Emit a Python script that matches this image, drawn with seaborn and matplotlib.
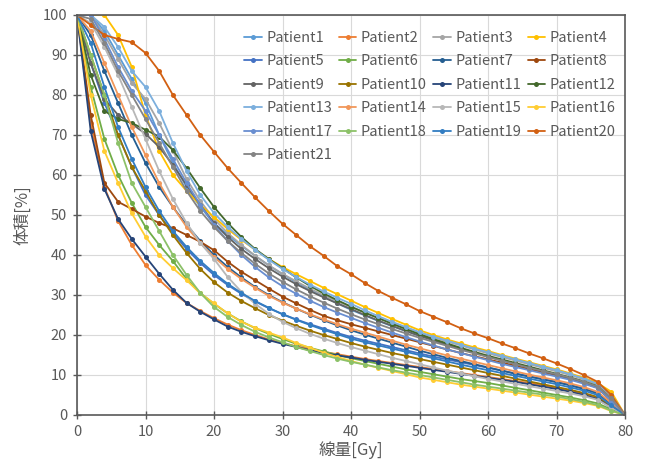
import matplotlib
matplotlib.use('Agg')
import matplotlib.pyplot as plt
import seaborn as sns
import pandas as pd

# dose axis: markers every 2 Gy
dose = list(range(0, 81, 2))

patients = [f"Patient{i}" for i in range(1, 22)]

colors = ["#5B9BD5", "#ED7D31", "#A5A5A5", "#FFC000", "#4472C4", "#70AD47",
          "#255E91", "#9E480E", "#636363", "#997300", "#264478", "#43682B",
          "#7CAFDD", "#F1975A", "#B7B7B7", "#FFCD33", "#698ED0", "#8CC168",
          "#327DC2", "#D26012", "#848484"]

p1 = [100, 100, 96, 90, 84, 78, 70, 63, 57, 52, 48, 45, 42.3, 39.8, 37.4, 35.2, 33.2, 31.3, 29.6, 27.9, 26.3,
      24.9, 23.5, 22.2, 21, 19.8, 18.7, 17.6, 16.6, 15.6, 14.6, 13.7, 12.8, 11.9, 11, 10.1, 9.2, 8.2, 7, 4, 0]
p2 = [100, 73, 57, 48.5, 42.5, 37.5, 33.8, 30.6, 28, 26, 24.2, 22.6, 21.2, 20, 18.9, 18, 17.2, 16.5, 15.8, 15.2, 14.6,
      14, 13.5, 13, 12.5, 12, 11.5, 11, 10.5, 10, 9.5, 9, 8.5, 8, 7.4, 6.8, 6.1, 5.3, 4.3, 2, 0]
p3 = [100, 100, 95, 89, 83, 79, 73, 66, 59, 53.5, 49, 45.5, 42.5, 39.8, 37.4, 35.3, 33.4, 31.6, 29.9, 28.4, 27,
      25.6, 24.3, 23, 21.8, 20.6, 19.5, 18.4, 17.4, 16.4, 15.4, 14.5, 13.6, 12.7, 11.8, 10.9, 10, 8.9, 7.6, 4.5, 0]
p4 = [100, 100, 100, 95, 87, 75, 66, 60, 56, 52.5, 49.5, 46.5, 43.8, 41.3, 39, 37, 35.2, 33.5, 31.8, 30.2, 28.6,
      27, 25.5, 24, 22.6, 21.2, 20, 18.9, 17.9, 16.9, 16, 15, 14.1, 13.2, 12.3, 11.4, 10.4, 9.3, 8, 5.8, 0]
p5 = [100, 88, 78, 70, 62, 55, 50, 45.5, 41.5, 38, 35, 32.5, 30.3, 28.4, 26.7, 25.2, 23.9, 22.7, 21.6, 20.5, 19.5,
      18.6, 17.8, 17, 16.2, 15.4, 14.6, 13.9, 13.2, 12.5, 11.8, 11.1, 10.4, 9.7, 9, 8.3, 7.5, 6.6, 5.5, 2.8, 0]
p6 = [100, 82, 69, 60, 53, 47, 42.5, 38.5, 34, 30.5, 27.8, 25.4, 23.4, 21.7, 20.3, 19, 17.8, 16.8, 15.9, 15, 14.2,
      13.5, 12.8, 12.1, 11.4, 10.8, 10.2, 9.6, 9, 8.5, 8, 7.4, 6.8, 6.2, 5.6, 5, 4.4, 3.7, 2.9, 1.4, 0]
p7 = [100, 95, 86, 78, 70, 63, 57, 52, 47.5, 43.5, 40, 37, 34.4, 32, 30, 28.2, 26.6, 25.1, 23.7, 22.4, 21.2,
      20.1, 19.1, 18.1, 17.1, 16.1, 15.2, 14.3, 13.5, 12.7, 11.9, 11.1, 10.3, 9.6, 8.9, 8.2, 7.4, 6.5, 5.4, 2.8, 0]
p8 = [100, 75, 58, 53.3, 51.5, 49.6, 48, 46.7, 45, 43.3, 41.2, 38.3, 35.8, 33.7, 31.6, 29.6, 27.9, 26.3, 24.8, 23.7, 22.7,
      21.8, 20.9, 20, 19.1, 18.2, 17.3, 16.4, 15.5, 14.7, 13.9, 13.1, 12.3, 11.5, 10.7, 9.9, 9, 8, 6.8, 3.5, 0]
p9 = [100, 88, 79, 75, 72.8, 70.3, 67, 62.5, 57.5, 52.5, 48, 44.5, 41.5, 39, 36.7, 34.6, 32.7, 31, 29.4, 27.9, 26.5,
      25, 23.6, 22.3, 21, 19.8, 18.7, 17.6, 16.6, 15.6, 14.6, 13.7, 12.8, 11.9, 11, 10.1, 9.2, 8.2, 7, 3.8, 0]
p10 = [100, 90, 80, 70, 62, 56, 50, 45, 40.5, 36.5, 33.2, 30.6, 28.5, 26.7, 25, 23.6, 22.3, 21.1, 20, 19, 18,
       17.1, 16.3, 15.5, 14.8, 14, 13.3, 12.6, 11.9, 11.2, 10.5, 9.8, 9.1, 8.4, 7.7, 7, 6.3, 5.5, 4.5, 2.2, 0]
p11 = [100, 71, 56.5, 49, 44, 39.6, 35.3, 31.3, 28, 25.8, 23.9, 22.1, 20.8, 19.7, 18.7, 17.8, 17, 16.2, 15.5, 14.9, 14.4,
       13.8, 13.3, 12.8, 12.3, 11.8, 11.3, 10.8, 10.3, 9.8, 9.3, 8.8, 8.3, 7.7, 7.1, 6.5, 5.8, 5, 4, 1.8, 0]
p12 = [100, 85, 76, 74, 73, 71.3, 69.6, 66.2, 61.7, 56.7, 52, 48, 44.5, 41.5, 39, 36.7, 34.4, 32.3, 30.4, 28.7, 27.1,
       25.6, 24.2, 22.8, 21.5, 20.2, 19, 17.9, 16.8, 15.8, 14.8, 13.9, 13, 12.1, 11.2, 10.3, 9.4, 8.4, 7.2, 4, 0]
p13 = [100, 100, 97, 92, 86, 82, 76, 68, 61, 55, 50.5, 47, 44, 41.3, 38.8, 36.5, 34.5, 32.6, 30.9, 29.3, 27.8,
       26.2, 24.7, 23.3, 22, 20.7, 19.6, 18.6, 17.6, 16.6, 15.7, 14.8, 13.9, 13, 12.1, 11.2, 10.2, 9.1, 7.8, 5, 0]
p14 = [100, 96, 88, 80, 72, 65, 58, 52, 47, 43, 39.5, 36.5, 34, 31.8, 29.8, 28.1, 26.6, 25.2, 23.9, 22.7, 21.6,
       20.6, 19.6, 18.6, 17.6, 16.7, 15.8, 14.9, 14.1, 13.3, 12.5, 11.7, 10.9, 10.1, 9.4, 8.7, 7.9, 7, 5.8, 3, 0]
p15 = [100, 98, 92, 85, 77, 69, 61, 54, 48, 43, 39, 34.5, 30.8, 27.8, 25.3, 23.3, 21.7, 20.3, 19.1, 18, 17,
       16.1, 15.2, 14.3, 13.5, 12.7, 11.9, 11.1, 10.4, 9.7, 9, 8.4, 7.8, 7.2, 6.6, 6, 5.4, 4.7, 3.8, 1.8, 0]
p16 = [100, 80, 66, 58, 50.4, 44.6, 40, 36.7, 33.7, 30.4, 27.9, 25.4, 23.3, 21.8, 20.6, 19.4, 18, 16.8, 15.6, 14.5, 13.5,
       12.6, 11.8, 11, 10.2, 9.4, 8.8, 8.2, 7.6, 7.1, 6.6, 6.1, 5.6, 5.1, 4.6, 4.1, 3.6, 3, 2.3, 1, 0]
p17 = [100, 100, 94, 87, 81, 76, 70, 64, 58, 52.5, 47.5, 43.5, 40, 37, 34.4, 32.2, 30.3, 28.6, 27, 25.6, 24.3,
       23, 21.8, 20.6, 19.5, 18.4, 17.4, 16.4, 15.5, 14.6, 13.7, 12.8, 12, 11.2, 10.4, 9.6, 8.8, 7.8, 6.7, 3.6, 0]
p18 = [100, 90, 80, 68, 58, 52, 46, 40, 35, 30.5, 27, 24.5, 22.5, 20.8, 19.4, 18.2, 17, 16, 15, 14.1, 13.3,
       12.6, 11.9, 11.2, 10.6, 10, 9.4, 8.8, 8.2, 7.6, 7.1, 6.6, 6.1, 5.6, 5.1, 4.6, 4, 3.3, 2.5, 1.1, 0]
p19 = [100, 93, 82, 72, 64, 57, 51, 46, 42, 38.5, 35.5, 32.8, 30.5, 28.5, 26.8, 25.2, 23.8, 22.5, 21.3, 20.2, 19.1,
       18.2, 17.4, 16.6, 15.8, 15, 14.2, 13.4, 12.6, 11.9, 11.2, 10.5, 9.8, 9.1, 8.4, 7.7, 6.9, 6.1, 5, 2.4, 0]
p20 = [100, 97.5, 95, 94, 93.2, 90.5, 86, 80, 75, 70, 65.8, 61.7, 58, 54.4, 51, 47.8, 45, 42.2, 39.8, 37.2, 35.2,
       33, 31, 29.3, 27.7, 26, 24.6, 23.2, 21.7, 20.4, 19.2, 17.9, 16.7, 15.4, 14.2, 12.9, 11.5, 10, 8.3, 5, 0]
p21 = [100, 99, 93, 86, 80, 74, 68, 62, 56, 51, 47, 43.5, 40.5, 37.8, 35.4, 33.3, 31.4, 29.7, 28.1, 26.6, 25.2,
       23.9, 22.7, 21.5, 20.4, 19.3, 18.3, 17.3, 16.3, 15.4, 14.5, 13.6, 12.7, 11.8, 11, 10.2, 9.3, 8.3, 7.1, 4.2, 0]

series = [p1, p2, p3, p4, p5, p6, p7, p8, p9, p10, p11, p12, p13, p14, p15, p16, p17, p18, p19, p20, p21]

x_ticks = list(range(0, 81, 10))
y_ticks = list(range(0, 101, 10))

sns.set_theme(style='white')
plt.rcParams['font.family'] = ['Noto Sans CJK JP', 'DejaVu Sans']

fig = plt.figure(figsize=(6.45, 4.7), dpi=100)
ax = fig.add_axes([77 / 645, 1 - 415 / 470, 548 / 645, 400 / 470])

for name, col, vals in zip(patients, colors, series):
    df = pd.DataFrame({'dose': dose, 'vol': vals})
    sns.lineplot(data=df, x='dose', y='vol', color=col, marker='o', markersize=3.6,
                 markeredgewidth=0, linewidth=1.3, label=name, ax=ax)

ax.set_xlim(0, 80)
ax.set_ylim(0, 100)
ax.set_xticks(x_ticks)
ax.set_yticks(y_ticks)
ax.grid(True, color='#D9D9D9', linewidth=0.8)
ax.set_axisbelow(True)
for s in ax.spines.values():
    s.set_color('#595959')
    s.set_linewidth(1.2)
    s.set_visible(True)
ax.tick_params(direction='inout', length=6, width=1, color='#595959',
               labelcolor='#595959', labelsize=10.5, left=True, bottom=True, pad=4)
ax.set_xlabel('線量[Gy]', fontsize=12, color='#595959', labelpad=2)
ax.set_ylabel('体積[%]', fontsize=12, color='#595959', labelpad=8)

handles, labels = ax.get_legend_handles_labels()
hmap = dict(zip(labels, handles))
order = []
for c in range(4):
    for r in range(6):
        i = r * 4 + c
        if i < 21:
            order.append(patients[i])
ax.legend([hmap[n] for n in order], order, ncol=4, frameon=False, loc='upper left',
          bbox_to_anchor=(0.295, 0.975), fontsize=10.5, handlelength=1.2, handletextpad=0.3,
          columnspacing=0.45, labelspacing=0.65, labelcolor='#595959', borderaxespad=0)

fig.savefig('out.png', dpi=100)
